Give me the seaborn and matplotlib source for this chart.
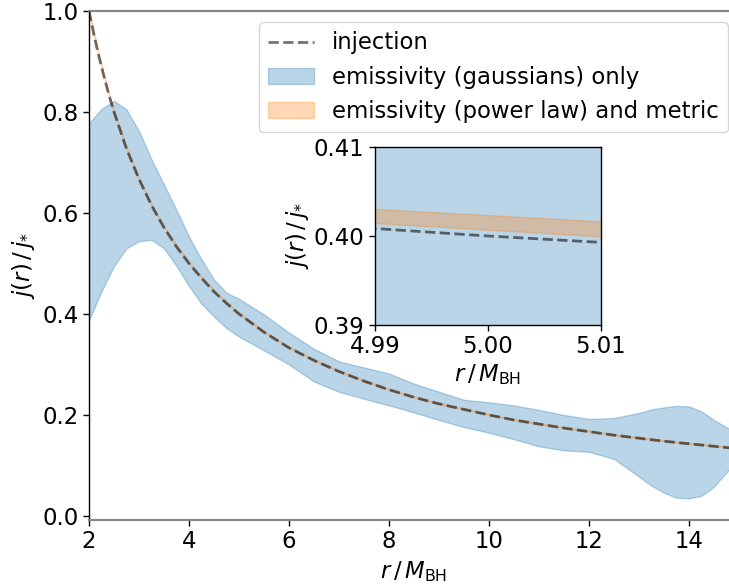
import numpy as np
import pandas as pd
import matplotlib
matplotlib.use("Agg")
import matplotlib.pyplot as plt
import seaborn as sns

# ---- data ----
r = [2.0, 2.25, 2.5, 2.75, 3.0, 3.25, 3.5, 3.75, 4.0, 4.25, 4.5, 4.75, 5.0,
     5.5, 6.0, 6.5, 7.0, 7.5, 8.0, 8.5, 9.0, 9.5, 10.0, 10.5, 11.0, 11.5,
     12.0, 12.5, 13.0, 13.25, 13.5, 13.75, 14.0, 14.25, 14.5, 14.8, 15.0]
gauss_hi = [0.778, 0.806, 0.822, 0.805, 0.762, 0.706, 0.656, 0.606, 0.553,
            0.508, 0.468, 0.442, 0.43, 0.399, 0.363, 0.331, 0.306, 0.294,
            0.282, 0.262, 0.246, 0.230, 0.225, 0.219, 0.210, 0.200, 0.192,
            0.194, 0.204, 0.211, 0.215, 0.218, 0.217, 0.207, 0.190, 0.173,
            0.165]
gauss_lo = [0.388, 0.445, 0.495, 0.530, 0.544, 0.547, 0.530, 0.495, 0.455,
            0.420, 0.395, 0.372, 0.355, 0.328, 0.300, 0.266, 0.246, 0.232,
            0.219, 0.205, 0.190, 0.176, 0.165, 0.152, 0.138, 0.130, 0.127,
            0.113, 0.078, 0.060, 0.046, 0.036, 0.035, 0.040, 0.058, 0.092,
            0.105]

r_inj = [2.0, 2.1, 2.2, 2.3, 2.4, 2.5, 2.75, 3.0, 3.25, 3.5, 3.75, 4.0, 4.25,
         4.5, 4.75, 5.0, 5.5, 6.0, 6.5, 7.0, 7.5, 8.0, 8.5, 9.0, 9.5, 10.0,
         10.5, 11.0, 11.5, 12.0, 12.5, 13.0, 13.5, 14.0, 14.5, 15.0]
injection = [1.0, 0.952, 0.909, 0.870, 0.833, 0.8, 0.727, 0.667, 0.615,
             0.571, 0.533, 0.5, 0.471, 0.444, 0.421, 0.4, 0.364, 0.333, 0.308,
             0.286, 0.267, 0.25, 0.235, 0.222, 0.211, 0.2, 0.190, 0.182,
             0.174, 0.167, 0.16, 0.154, 0.148, 0.143, 0.138, 0.133]

r_pl = [2.0, 2.1, 2.2, 2.3, 2.4, 2.5, 2.75, 3.0, 3.25, 3.5, 3.75, 4.0, 4.25,
        4.5, 4.75, 4.99, 5.01, 5.5, 6.0, 6.5, 7.0, 7.5, 8.0, 8.5, 9.0, 9.5,
        10.0, 10.5, 11.0, 11.5, 12.0, 12.5, 13.0, 13.5, 14.0, 14.5, 15.0]
pl_lo = [1.0, 0.953, 0.910, 0.871, 0.834, 0.8, 0.728, 0.668, 0.616, 0.572,
         0.534, 0.501, 0.472, 0.445, 0.422, 0.4014, 0.3999, 0.364, 0.333,
         0.308, 0.286, 0.267, 0.25, 0.235, 0.222, 0.211, 0.2, 0.190, 0.182,
         0.174, 0.167, 0.16, 0.154, 0.148, 0.143, 0.138, 0.133]
pl_hi = [1.002, 0.955, 0.912, 0.873, 0.836, 0.802, 0.730, 0.670, 0.618,
         0.574, 0.536, 0.503, 0.474, 0.447, 0.424, 0.4030, 0.4016, 0.366,
         0.335, 0.310, 0.288, 0.269, 0.252, 0.237, 0.224, 0.213, 0.202,
         0.192, 0.184, 0.176, 0.169, 0.162, 0.156, 0.150, 0.145, 0.140, 0.135]

x_ticks = [2, 4, 6, 8, 10, 12, 14]
y_ticks = [0.0, 0.2, 0.4, 0.6, 0.8, 1.0]
inset_x_ticks = [4.99, 5.00, 5.01]
inset_y_ticks = [0.39, 0.40, 0.41]

df_inj = pd.DataFrame({"r": r_inj, "j": injection})

sns.set_style("ticks")
plt.rcParams["font.family"] = ["DejaVu Sans"]
plt.rcParams["mathtext.fontset"] = "dejavusans"
for k in ["text.color", "axes.labelcolor", "xtick.color", "ytick.color"]:
    plt.rcParams[k] = "black"

FS = 16.4

fig = plt.figure(figsize=(7.29, 5.88), dpi=100)
# the main axes run to r = 15, slightly past the right edge of the image
ax = fig.add_axes([89 / 729, 68 / 588, (739 - 89) / 729, (520 - 11) / 588])

blue = sns.color_palette("tab10")[0]
orange = sns.color_palette("tab10")[1]


def draw(a, lw=2.0):
    a.fill_between(r, gauss_lo, gauss_hi, color=blue, alpha=0.3,
                   label="emissivity (gaussians) only", zorder=1)
    a.fill_between(r_pl, pl_lo, pl_hi, color=orange, alpha=0.3,
                   label="emissivity (power law) and metric", zorder=2)
    sns.lineplot(data=df_inj, x="r", y="j", ax=a, color="k", alpha=0.55,
                 linestyle="--", linewidth=lw, label="injection", zorder=3,
                 legend=False)


draw(ax)
ax.set_xlim(2, 15)
ax.set_ylim(-0.008, 1.0)
ax.set_xticks(x_ticks)
ax.set_yticks(y_ticks)
ax.set_xticklabels([str(t) for t in x_ticks])
ax.set_yticklabels([f"{t:.1f}" for t in y_ticks])
ax.tick_params(labelsize=FS, length=4, width=1)
ax.set_xlabel(r"$r\,/\,M_{\rm BH}$", fontsize=FS, labelpad=4)
ax.set_ylabel(r"$j(r)\,/\,j_{*}$", fontsize=FS, labelpad=4)
for s in ["top", "bottom"]:
    ax.spines[s].set_color("#888888")
    ax.spines[s].set_linewidth(1.6)
ax.spines["left"].set_color("black")
ax.spines["left"].set_linewidth(1.0)
ax.spines["right"].set_visible(False)

h, l = ax.get_legend_handles_labels()
order = [l.index("injection"), l.index("emissivity (gaussians) only"),
         l.index("emissivity (power law) and metric")]
ax.legend([h[i] for i in order], [l[i] for i in order], loc="upper right",
          fontsize=FS, handlelength=2.0)

# inset
axin = fig.add_axes([375 / 729, 1 - 325 / 588, (601 - 375) / 729, (325 - 147) / 588])
draw(axin, lw=2.0)
axin.set_xlim(4.99, 5.01)
axin.set_ylim(0.39, 0.41)
axin.set_xticks(inset_x_ticks)
axin.set_yticks(inset_y_ticks)
axin.set_xticklabels([f"{t:.2f}" for t in inset_x_ticks])
axin.set_yticklabels([f"{t:.2f}" for t in inset_y_ticks])
axin.tick_params(labelsize=FS, length=4, width=1)
axin.set_xlabel(r"$r\,/\,M_{\rm BH}$", fontsize=FS, labelpad=3)
axin.set_ylabel(r"$j(r)\,/\,j_{*}$", fontsize=FS, labelpad=2)
for s in axin.spines.values():
    s.set_color("black")
    s.set_linewidth(1.0)

fig.savefig("out.png", dpi=100)
